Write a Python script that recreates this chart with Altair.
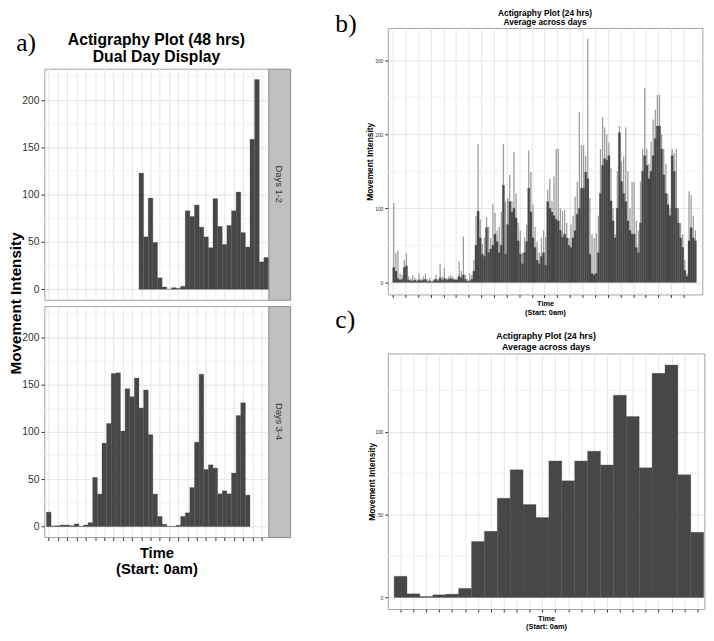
import altair as alt
import pandas as pd

# ---------------- data ----------------
# Panel a: hourly bins over 48 h (double plot)
days12_first_bin = 20
days12_values = [122.8, 55.4, 96.5, 49.5, 12.1, 2.4, 0.0, 1.7, 1.0, 3.1,
                 83.0, 77.0, 89.0, 65.7, 55.4, 43.9, 95.8, 66.4, 47.4, 67.5,
                 83.0, 102.8, 59.9, 44.6, 158.5, 221.8, 29.0, 33.6]
days34_first_bin = 0
days34_values = [15.3, 0.7, 1.0, 1.7, 1.7, 1.0, 2.8, 0.3, 1.7, 4.2,
                 52.0, 34.4, 88.2, 109.0, 161.8, 162.5, 101.0, 145.8, 137.2, 157.0,
                 125.3, 144.4, 97.2, 34.4, 10.8, 2.4, 0.3, 0.3, 1.4, 10.8,
                 14.6, 41.3, 89.2, 161.1, 60.4, 65.3, 61.8, 34.7, 37.8, 34.7,
                 56.6, 117.4, 130.9, 33.3]
strip_labels = ["Days 1-2", "Days 3-4"]

# Panel b: 10-minute bins over 24 h (peak = light spikes, base = dark body)
avg_peak = [
    107, 40, 43, 12, 10, 30,   39, 8, 5, 10, 6, 4,   12, 5, 8, 12, 4, 6,
    2, 5, 10, 4, 25, 8,        20, 6, 8, 10, 8, 5,   6, 28, 15, 62, 10, 4,
    12, 10, 30, 90, 187, 85,   52, 60, 88, 75, 60, 106,  94, 70, 75, 95, 187, 109,
    114, 145, 110, 176, 120, 80,  70, 40, 61, 78, 178, 149,  105, 75, 55, 40, 60, 70,
    61, 125, 140, 110, 143, 180,  180, 100, 96, 98, 80, 60,  78, 90, 116, 136, 230, 185,
    185, 171, 329, 114, 65, 60,  66, 90, 180, 223, 209, 200,  189, 154, 100, 65, 150, 211,
    163, 170, 209, 150, 100, 136,  136, 83, 70, 136, 180, 262,  180, 160, 190, 220, 233, 253,
    253, 200, 180, 160, 120, 100,  180, 175, 180, 100, 80, 65,  30, 12, 123, 118, 90, 70]
avg_base = [
    20, 15, 5, 3, 4, 20,   22, 3, 2, 2, 3, 1,   3, 2, 3, 4, 1, 2,
    0, 2, 4, 2, 6, 3,      5, 3, 4, 5, 4, 3,    3, 8, 6, 10, 4, 1,
    2, 4, 15, 50, 96, 60,  38, 35, 74, 40, 45, 50,  65, 55, 40, 50, 131, 38,
    78, 109, 95, 100, 87, 56,  38, 25, 40, 55, 127, 95,  60, 47, 30, 25, 35, 40,
    23, 109, 100, 95, 90, 85,  83, 70, 61, 65, 60, 50,  47, 60, 70, 92, 100, 127,
    127, 149, 140, 38, 12, 10,  12, 40, 120, 158, 167, 165,  171, 110, 83, 60, 100, 202,
    136, 120, 109, 83, 70, 65,  65, 47, 40, 80, 150, 171,  158, 140, 150, 171, 194, 211,
    211, 180, 145, 120, 105, 90,  171, 150, 100, 80, 60, 47,  16, 8, 56, 74, 60, 56]

# Panel c: hourly averages over 24 h
avg_hourly = [12.8, 2.2, 0.6, 1.6, 2.0, 5.5, 33.8, 39.9, 59.9, 77.1, 56.1, 48.2,
              82.4, 70.4, 82.4, 88.3, 80.0, 122.1, 109.3, 78.3, 135.3, 140.3, 74.1, 39.3]

a_y_ticks = [0, 50, 100, 150, 200]
a_y_minor = [25, 75, 125, 175, 225]
b_y_ticks = [0, 100, 200, 300]
b_y_minor = [50, 150, 250]
c_y_ticks = [0, 50, 100]
c_y_minor = [25, 75, 125]
panel_letters = ["a)", "b)", "c)"]

SANS = "Liberation Sans"
SERIF = "Liberation Serif"
BAR = "#474747"
GRID = "#E6E6E6"
MINOR = "#F3F3F3"
TXT = "#333333"


def spacer(w, h, label=None, lx=0.0, ly=0.0):
    """Invisible layout cell, optionally carrying a panel letter."""
    if label is None:
        mark = alt.Chart(pd.DataFrame({"t": [""]})).mark_text(
            fontSize=1, baseline="top", align="left").encode(
            text="t:N", x=alt.value(0), y=alt.value(1))
    else:
        mark = alt.Chart(pd.DataFrame({"t": [label]})).mark_text(
            font=SERIF, fontSize=26, align="left", baseline="alphabetic",
            color="black").encode(text="t:N", x=alt.value(lx), y=alt.value(ly))
    return mark.properties(
        width=w, height=h,
        view=alt.ViewBackground(stroke="transparent", fill="transparent"))


# ---------------- panel a ----------------
a_x_ticks = [i + 0.5 for i in range(0, 48, 2)]
xa = alt.Scale(domain=[-0.45, 48], nice=False, zero=False)
ya = alt.Scale(domain=[-11.1, 233.1], nice=False, zero=False)


def a_plot(values, first_bin, top):
    df = pd.DataFrame({"start": [first_bin + i for i in range(len(values))],
                       "value": values})
    df["end"] = df["start"] + 1
    xkw = dict(values=a_x_ticks, labels=False, domain=False, grid=True,
               gridColor=GRID)
    if top:
        xkw.update(ticks=False, title=None)
    else:
        xkw.update(ticks=True, tickSize=3.5, tickColor=TXT,
                   title=["Time", "(Start: 0am)"], titleFontSize=15,
                   titleFontWeight="bold", titleColor="black",
                   titleLineHeight=16, titlePadding=5)
    ykw = dict(values=a_y_ticks, grid=True, gridColor=GRID, domain=False,
               ticks=True, tickSize=3.5, tickColor=TXT, labelFontSize=10.5,
               labelFont="Liberation Sans Narrow, Arial Narrow, Liberation Sans",
               labelColor=TXT, labelPadding=2)
    if top:
        ykw.update(title="Movement Intensity", titleFontSize=15.5,
                   titleFontWeight="bold", titleColor="black",
                   titleX=-29.2, titleY=238.2, titleAngle=270,
                   titleAlign="center", titleBaseline="middle")
    else:
        ykw.update(title=None)
    yax = alt.Axis(**ykw)
    rules = alt.Chart(pd.DataFrame({"v": a_y_minor})).mark_rule(
        color=MINOR, strokeWidth=1).encode(
        y=alt.Y("v:Q", scale=ya, axis=yax))
    bars = alt.Chart(df).mark_bar(color=BAR, stroke=BAR, strokeWidth=0.3).encode(
        x=alt.X("start:Q", scale=xa, axis=alt.Axis(**xkw)),
        x2="end:Q",
        y=alt.Y("value:Q", scale=ya, axis=yax),
        y2=alt.datum(0))
    ch = alt.layer(rules, bars).properties(width=228, height=235)
    if top:
        ch = ch.properties(title=alt.TitleParams(
            text=["Actigraphy Plot (48 hrs)", "Dual Day Display"],
            fontSize=16, lineHeight=17, fontWeight="bold", font=SANS,
            anchor="middle", frame="group", offset=4))
    return ch


def strip(label):
    return alt.Chart(pd.DataFrame({"t": [label]})).mark_text(
        angle=90, fontSize=9.5, color=TXT, font=SANS).encode(
        text="t:N").properties(
        width=22, height=235,
        view=alt.ViewBackground(fill="#C0C0C0", stroke="#8C8C8C"))


TOP = 3.5          # common top of both columns
A_SPACER = 64.3 - TOP - 6.4
left = alt.concat(
    spacer(228, A_SPACER, panel_letters[0], -28.7, 47 - TOP), spacer(22, A_SPACER),
    a_plot(days12_values, days12_first_bin, True), strip(strip_labels[0]),
    a_plot(days34_values, days34_first_bin, False), strip(strip_labels[1]),
    columns=2, spacing={"row": 6.4, "column": 0}, bounds="flush")

# ---------------- panel b ----------------
b_df = pd.DataFrame({"bin": list(range(len(avg_peak))), "peak": avg_peak,
                     "base": avg_base})
b_df["start"] = b_df["bin"] / 6
b_df["end"] = (b_df["bin"] + 1) / 6
b_df["pstart"] = (b_df["bin"] + 0.2) / 6
b_df["pend"] = (b_df["bin"] + 0.8) / 6

xb = alt.Scale(domain=[-0.39, 24.47], nice=False, zero=False)
yb = alt.Scale(domain=[-16.4, 343.4], nice=False, zero=False)


def small_axes(yvals, xvals, ytitle_x):
    yax = alt.Axis(values=yvals, grid=True, gridColor=GRID, domain=False,
                   ticks=True, tickSize=3, tickColor=TXT, labelFontSize=5,
                   labelColor=TXT, labelPadding=2,
                   title="Movement Intensity", titleFontSize=8.5,
                   titleFontWeight="bold", titleColor="black",
                   titleX=ytitle_x, titleAngle=270, titleAlign="center",
                   titleBaseline="middle")
    xax = alt.Axis(values=xvals, labels=False, domain=False, grid=True,
                   gridColor=GRID, ticks=True, tickSize=3, tickColor=TXT,
                   title=["Time", "(Start: 0am)"], titleFontSize=7.5,
                   titleFontWeight="bold", titleColor="black",
                   titleLineHeight=8.5, titlePadding=2)
    return yax, xax


yax_b, xax_b = small_axes(b_y_ticks, list(range(24)), -18.3)
b_rules = alt.Chart(pd.DataFrame({"v": b_y_minor})).mark_rule(
    color=MINOR).encode(y=alt.Y("v:Q", scale=yb, axis=yax_b))
b_peak = alt.Chart(b_df).mark_bar(color="#9C9C9C").encode(
    x=alt.X("pstart:Q", scale=xb, axis=xax_b), x2="pend:Q",
    y=alt.Y("peak:Q", scale=yb, axis=yax_b), y2=alt.datum(0))
b_base = alt.Chart(b_df).mark_bar(color=BAR, stroke=BAR, strokeWidth=0.3).encode(
    x=alt.X("start:Q", scale=xb, axis=xax_b), x2="end:Q",
    y=alt.Y("base:Q", scale=yb, axis=yax_b), y2=alt.datum(0))
b_chart = alt.layer(b_rules, b_peak, b_base).properties(
    width=320, height=271,
    title=alt.TitleParams(text=["Actigraphy Plot (24 hrs)", "Average across days"],
                          fontSize=8.5, lineHeight=9, fontWeight="bold", font=SANS,
                          anchor="middle", frame="group", offset=1.5))

# ---------------- panel c ----------------
c_df = pd.DataFrame({"hour": list(range(len(avg_hourly))), "value": avg_hourly})
c_df["end"] = c_df["hour"] + 1
xc = alt.Scale(domain=[-0.49, 24.05], nice=False, zero=False)
yc = alt.Scale(domain=[-7.0, 147.3], nice=False, zero=False)
yax_c, xax_c = small_axes(c_y_ticks, [i + 0.5 for i in range(24)], -16.3)
c_rules = alt.Chart(pd.DataFrame({"v": c_y_minor})).mark_rule(
    color=MINOR).encode(y=alt.Y("v:Q", scale=yc, axis=yax_c))
c_bars = alt.Chart(c_df).mark_bar(color=BAR, stroke=BAR, strokeWidth=0.3).encode(
    x=alt.X("hour:Q", scale=xc, axis=xax_c), x2="end:Q",
    y=alt.Y("value:Q", scale=yc, axis=yax_c), y2=alt.datum(0))
c_chart = alt.layer(c_rules, c_bars).properties(
    width=322, height=260,
    title=alt.TitleParams(text=["Actigraphy Plot (24 hrs)", "Average across days"],
                          fontSize=9, lineHeight=11, fontWeight="bold", font=SANS,
                          anchor="middle", frame="group", offset=1.5))

B_SPACER = 23.5 - TOP
BC_GAP = 354.3 - 294.5
right = alt.vconcat(
    spacer(320, B_SPACER, panel_letters[1], -53.3, 28 - TOP),
    b_chart,
    spacer(320, BC_GAP, panel_letters[2], -53.3, 329 - 294.5),
    c_chart,
    spacing=0, bounds="flush")

chart = alt.hconcat(left, right, spacing=44.3).properties(
    padding={"top": -6, "left": 0, "right": 0, "bottom": 0},
    background="white"
).configure_view(stroke="#A0A0A0", strokeWidth=1).configure_axis(
    labelFont=SANS, titleFont=SANS
).configure_title(font=SANS, color="black")

chart.save("out.html", embed_options={"renderer": "svg", "actions": False})
